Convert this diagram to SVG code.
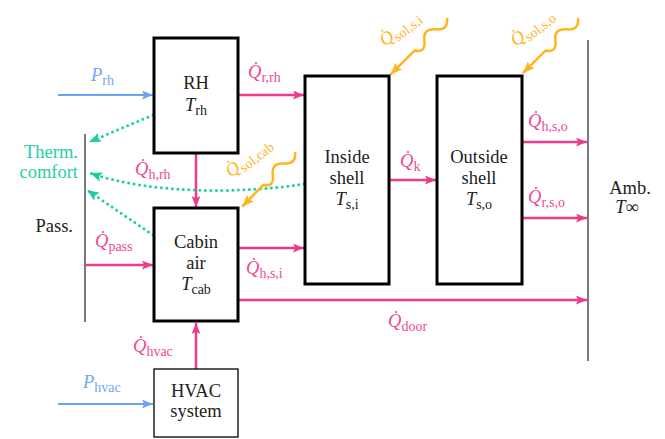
<svg xmlns="http://www.w3.org/2000/svg" width="665" height="439" viewBox="0 0 665 439">
<style>
.pk{fill:#EF4A94}
.bl{fill:#72A6F5}
.tl{fill:#22CFA5}
.gd{fill:#FFB628}
.bk{fill:#222}
.box{fill:#fff;stroke:#000;stroke-width:3}
.thin{fill:#fff;stroke:#000;stroke-width:1.3}
.vl{stroke:#222;stroke-width:1.2}
.ap{stroke:#EE3A88;stroke-width:2.5;fill:none;marker-end:url(#ap)}
.ab{stroke:#6AA2F8;stroke-width:2.2;fill:none;marker-end:url(#ab)}
.at{stroke:#1CCFA3;stroke-width:3;fill:none;stroke-dasharray:0 5.5;stroke-linecap:round;marker-end:url(#at)}
.ag{stroke:#FFB51E;stroke-width:2.5;fill:none;marker-end:url(#ag)}
</style>
<defs>
<marker id="ap" viewBox="0 0 10 8" refX="10" refY="4" markerWidth="11" markerHeight="9" markerUnits="userSpaceOnUse" orient="auto"><path d="M0,0 L10,4 L0,8 L2,4 Z" fill="#EE3A88"/></marker>
<marker id="ab" viewBox="0 0 10 8" refX="10" refY="4" markerWidth="11" markerHeight="9" markerUnits="userSpaceOnUse" orient="auto"><path d="M0,0 L10,4 L0,8 L2,4 Z" fill="#6AA2F8"/></marker>
<marker id="at" viewBox="0 0 10 8" refX="10" refY="4" markerWidth="12" markerHeight="10" markerUnits="userSpaceOnUse" orient="auto"><path d="M0,0 L10,4 L0,8 L2,4 Z" fill="#1CCFA3"/></marker>
<marker id="ag" viewBox="0 0 10 8" refX="10" refY="4" markerWidth="12" markerHeight="10" markerUnits="userSpaceOnUse" orient="auto"><path d="M0,0 L10,4 L0,8 L2,4 Z" fill="#FFB51E"/></marker>
</defs>
<rect width="665" height="439" fill="#fff"/>

<g id="connectors">
<path class="ab" d="M58,95 L153,95"/>
<path class="ap" d="M238,95 L304,95"/>
<path class="ap" d="M196,153 L196,207"/>
<path class="ap" d="M86,265 L153,265"/>
<path class="ap" d="M238,248 L304,248"/>
<path class="ap" d="M238,300 L587,300"/>
<path class="ap" d="M196,369 L196,323"/>
<path class="ab" d="M58,404 L153,404"/>
<path class="ap" d="M389,180 L436,180"/>
<path class="ap" d="M522,142 L587,142"/>
<path class="ap" d="M522,218 L587,218"/>
<path class="at" d="M153,115 L89,142"/>
<path class="at" d="M304,184 C240,194 150,194 90,173"/>
<path class="at" d="M153,235 L87,190"/>
<path class="ag" transform="translate(295,152) rotate(134)" d="M0,0 Q8,-10 16,0 T32,0 T46,0 L76,0"/>
<path class="ag" transform="translate(447,18) rotate(135)" d="M0,0 Q8,-10 16,0 T32,0 T46,0 L80,0"/>
<path class="ag" transform="translate(578,18) rotate(135)" d="M0,0 Q8,-10 16,0 T32,0 T46,0 L78,0"/>
</g>

<g id="labels">
<text class="bl" font-family="Liberation Serif" font-size="18.5" font-style="italic" x="91" y="81">P<tspan font-size="14" font-style="normal" dy="4">rh</tspan></text>
<text class="pk" font-family="Liberation Serif" font-size="18.5" font-style="italic" x="248" y="78">Q̇<tspan font-size="14" font-style="normal" dy="4">r,rh</tspan></text>
<text class="pk" font-family="Liberation Serif" font-size="18.5" font-style="italic" x="135" y="175">Q̇<tspan font-size="14" font-style="normal" dy="4">h,rh</tspan></text>
<text class="pk" font-family="Liberation Serif" font-size="18.5" font-style="italic" x="95" y="247">Q̇<tspan font-size="14" font-style="normal" dy="4">pass</tspan></text>
<text class="pk" font-family="Liberation Serif" font-size="18.5" font-style="italic" x="246" y="274">Q̇<tspan font-size="14" font-style="normal" dy="4">h,s,i</tspan></text>
<text class="pk" font-family="Liberation Serif" font-size="18.5" font-style="italic" x="388" y="327">Q̇<tspan font-size="14" font-style="normal" dy="4">door</tspan></text>
<text class="pk" font-family="Liberation Serif" font-size="18.5" font-style="italic" x="133" y="352">Q̇<tspan font-size="14" font-style="normal" dy="4">hvac</tspan></text>
<text class="bl" font-family="Liberation Serif" font-size="18.5" font-style="italic" x="83" y="388">P<tspan font-size="14" font-style="normal" dy="4">hvac</tspan></text>
<text class="pk" font-family="Liberation Serif" font-size="18.5" font-style="italic" x="400" y="167">Q̇<tspan font-size="14" font-style="normal" dy="4">k</tspan></text>
<text class="pk" font-family="Liberation Serif" font-size="18.5" font-style="italic" x="528" y="127">Q̇<tspan font-size="14" font-style="normal" dy="4">h,s,o</tspan></text>
<text class="pk" font-family="Liberation Serif" font-size="18.5" font-style="italic" x="528" y="203">Q̇<tspan font-size="14" font-style="normal" dy="4">r,s,o</tspan></text>
<text class="gd" font-family="Liberation Serif" font-size="18.5" font-style="italic" transform="translate(231,178) rotate(-38)">Q̇<tspan font-size="14" font-style="normal" dy="4">sol,cab</tspan></text>
<text class="gd" font-family="Liberation Serif" font-size="18.5" font-style="italic" transform="translate(385,47) rotate(-38)">Q̇<tspan font-size="14" font-style="normal" dy="4">sol,s,i</tspan></text>
<text class="gd" font-family="Liberation Serif" font-size="18.5" font-style="italic" transform="translate(516,47) rotate(-38)">Q̇<tspan font-size="14" font-style="normal" dy="4">sol,s,o</tspan></text>
</g>

<g id="rh">
<rect class="box" x="154" y="38" width="84" height="115"/>
<text class="bk" font-family="Liberation Serif" font-size="18.5" x="196" y="89" text-anchor="middle">RH</text>
<text class="bk" font-family="Liberation Serif" font-size="18.5" font-style="italic" x="196" y="111" text-anchor="middle">T<tspan font-size="14" font-style="normal" dy="4">rh</tspan></text>
</g>

<g id="cabin">
<rect class="box" x="154" y="208" width="84" height="113"/>
<text class="bk" font-family="Liberation Serif" font-size="18.5" x="196" y="248" text-anchor="middle">Cabin</text>
<text class="bk" font-family="Liberation Serif" font-size="18.5" x="196" y="269" text-anchor="middle">air</text>
<text class="bk" font-family="Liberation Serif" font-size="18.5" font-style="italic" x="196" y="290" text-anchor="middle">T<tspan font-size="14" font-style="normal" dy="4">cab</tspan></text>
</g>

<g id="hvac">
<rect class="thin" x="154" y="369" width="84" height="68"/>
<text class="bk" font-family="Liberation Serif" font-size="18.5" x="196" y="397" text-anchor="middle">HVAC</text>
<text class="bk" font-family="Liberation Serif" font-size="18.5" x="196" y="417" text-anchor="middle">system</text>
</g>

<g id="inside">
<rect class="box" x="305" y="76" width="84" height="208"/>
<text class="bk" font-family="Liberation Serif" font-size="18.5" x="347" y="163" text-anchor="middle">Inside</text>
<text class="bk" font-family="Liberation Serif" font-size="18.5" x="347" y="184" text-anchor="middle">shell</text>
<text class="bk" font-family="Liberation Serif" font-size="18.5" font-style="italic" x="347" y="205" text-anchor="middle">T<tspan font-size="14" font-style="normal" dy="4">s,i</tspan></text>
</g>

<g id="outside">
<rect class="box" x="437" y="76" width="85" height="208"/>
<text class="bk" font-family="Liberation Serif" font-size="18.5" x="479" y="163" text-anchor="middle">Outside</text>
<text class="bk" font-family="Liberation Serif" font-size="18.5" x="479" y="184" text-anchor="middle">shell</text>
<text class="bk" font-family="Liberation Serif" font-size="18.5" font-style="italic" x="479" y="205" text-anchor="middle">T<tspan font-size="14" font-style="normal" dy="4">s,o</tspan></text>
</g>

<g id="pass">
<line class="vl" x1="85" y1="134" x2="85" y2="322"/>
<text class="bk" font-family="Liberation Serif" font-size="18.5" x="73" y="232" text-anchor="end">Pass.</text>
</g>

<g id="comfort">
<text class="tl" font-family="Liberation Serif" font-size="18.5" x="78" y="158" text-anchor="end">Therm.</text>
<text class="tl" font-family="Liberation Serif" font-size="18.5" x="78" y="178" text-anchor="end">comfort</text>
</g>

<g id="amb">
<line class="vl" x1="588" y1="40" x2="588" y2="361"/>
<text class="bk" font-family="Liberation Serif" font-size="18.5" x="630" y="194" text-anchor="middle">Amb.</text>
<text class="bk" font-family="Liberation Serif" font-size="18.5" font-style="italic" x="627" y="213" text-anchor="middle">T<tspan font-style="normal">∞</tspan></text>
</g>
</svg>
